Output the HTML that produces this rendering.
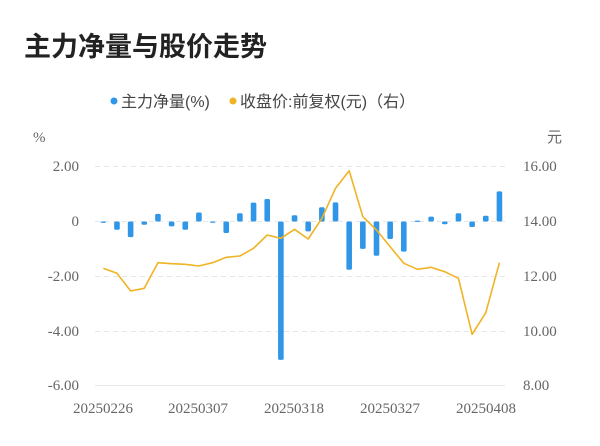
<!DOCTYPE html>
<html><head><meta charset="utf-8"><style>
html,body{margin:0;padding:0;background:#fff;}
svg{display:block;}
</style></head><body>
<svg id="sv" width="600" height="446" viewBox="0 0 600 446" xmlns="http://www.w3.org/2000/svg">
<text x="24" y="56" font-family="Liberation Sans, Noto Sans CJK SC, sans-serif" font-size="27" font-weight="bold" fill="#222">主力净量与股价走势</text>
<circle cx="114" cy="101" r="3.5" fill="#2f96e8"/>
<text x="121" y="107" font-family="Liberation Sans, Noto Sans CJK SC, sans-serif" font-size="16" fill="#444">主力净量(%)</text>
<circle cx="233" cy="101" r="3.5" fill="#f0b323"/>
<text x="240" y="107" font-family="Liberation Sans, Noto Sans CJK SC, sans-serif" font-size="16" fill="#444">收盘价:前复权(元)（右）</text>
<g font-family="Liberation Serif, Noto Sans CJK SC, serif" font-size="15" fill="#666">
<text x="33" y="142">%</text>
<text x="547" y="142" font-family="Liberation Sans, Noto Sans CJK SC, sans-serif">元</text>
<g text-anchor="end">
<text x="79" y="171">2.00</text><text x="79" y="226">0</text><text x="79" y="281">-2.00</text><text x="79" y="336">-4.00</text><text x="79" y="390">-6.00</text>
</g>
<text x="523" y="171">16.00</text><text x="523" y="226">14.00</text><text x="523" y="281">12.00</text><text x="523" y="336">10.00</text><text x="523" y="390">8.00</text>
<g text-anchor="middle" font-size="15">
<text x="103" y="413">20250226</text><text x="198" y="413">20250307</text><text x="294" y="413">20250318</text><text x="390" y="413">20250327</text><text x="486" y="413">20250408</text>
</g>
</g>
<g stroke="#e6e6e6" stroke-width="1" stroke-dasharray="5,4">
<line x1="95" y1="166.5" x2="505" y2="166.5"/><line x1="95" y1="221.5" x2="505" y2="221.5"/><line x1="95" y1="276.5" x2="505" y2="276.5"/><line x1="95" y1="331.5" x2="505" y2="331.5"/>
</g>
<line x1="95" y1="385.5" x2="505" y2="385.5" stroke="#e6e6e6"/>
<g fill="#2f96e8" id="bars"></g>
<polyline id="ln" fill="none" stroke="#f0b323" stroke-width="1.6" stroke-linejoin="round"/>
</svg>
<script>
var v=[-0.05,-0.3,-0.57,-0.12,0.28,-0.18,-0.3,0.33,-0.02,-0.42,0.3,0.69,0.82,-5.05,0.23,-0.36,0.52,0.7,-1.76,-1.0,-1.25,-0.64,-1.1,0.03,0.18,-0.1,0.3,-0.2,0.21,1.1];
var p=[268.3,273.3,291,288.3,262.7,263.7,264.3,266,262.7,257.3,256,248.3,235,238.3,229.3,239,218.3,188.3,170.7,216.7,230,246.7,263.3,269.3,267.3,271.7,278.3,334.3,312.7,262.7];
var NS="http://www.w3.org/2000/svg";
var g=document.getElementById('bars'),pts=[];
for(var i=0;i<30;i++){var x=103.3+i*13.66;var y0=221.5,y1=221.5-v[i]*27.4;var t=Math.min(y0,y1),h=Math.max(Math.abs(y1-y0),1.2);
var r=document.createElementNS(NS,'rect');r.setAttribute('x',x-2.8);r.setAttribute('y',t);r.setAttribute('width',5.6);r.setAttribute('height',h);r.setAttribute('rx',1.5);r.setAttribute('fill','#2f96e8');g.appendChild(r);
pts.push(x+','+p[i]);}
document.getElementById('ln').setAttribute('points',pts.join(' '));
</script>
</body></html>
